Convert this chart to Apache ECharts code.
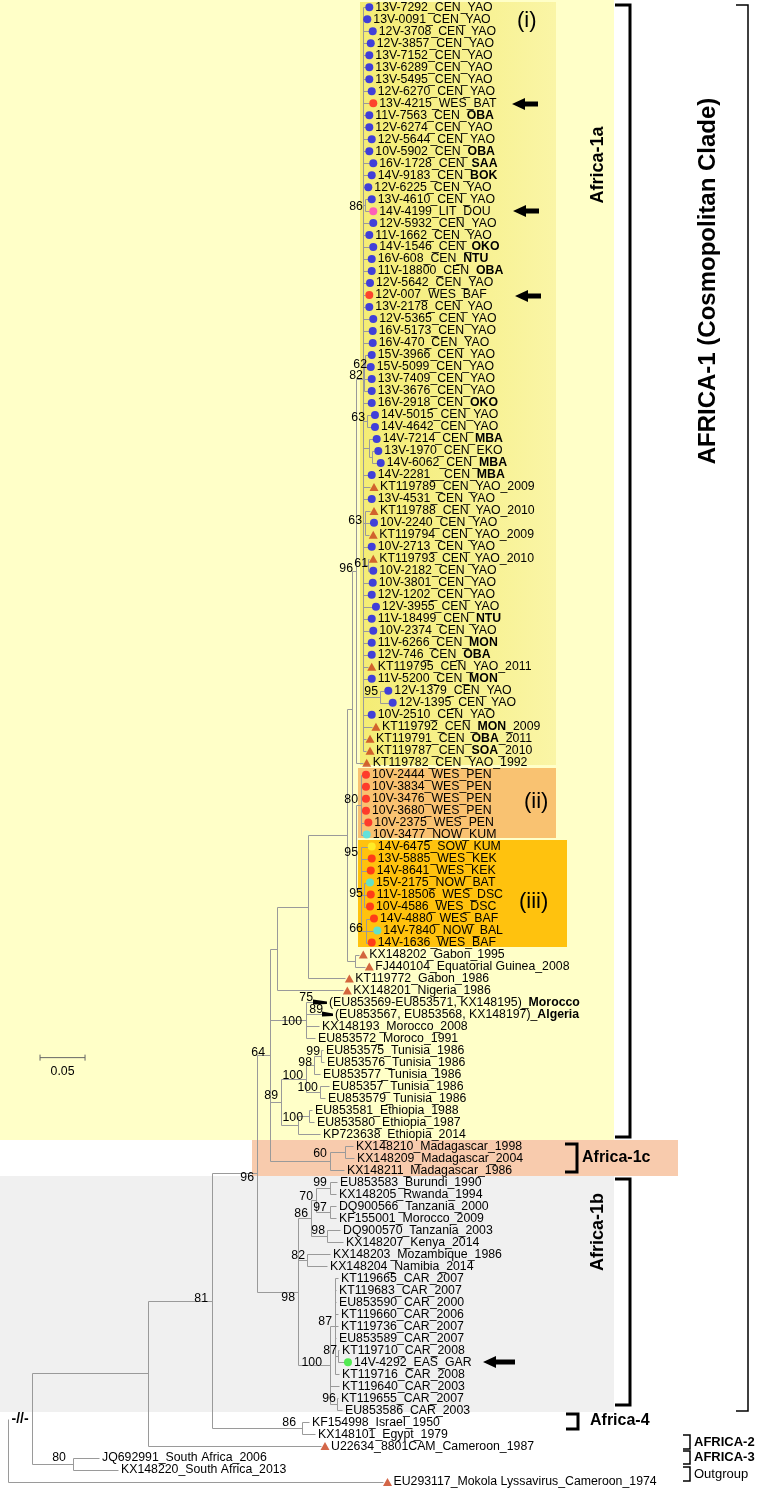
<!DOCTYPE html>
<html><head><meta charset="utf-8">
<script src="https://cdn.jsdelivr.net/npm/echarts@6/dist/echarts.min.js"></script>
<style>html,body{margin:0;padding:0;background:#fff}#c{width:757px;height:1490px}</style>
</head><body><div id="c"></div>
<script>
// ---------------- DATA ----------------
const leafNames = [
"13V-7292_CEN_YAO","13V-0091_CEN_YAO","12V-3708_CEN_YAO","12V-3857_CEN_YAO","13V-7152_CEN_YAO","13V-6289_CEN_YAO","13V-5495_CEN_YAO","12V-6270_CEN_YAO","13V-4215_WES_BAT","11V-7563_CEN_|OBA",
"12V-6274_CEN_YAO","12V-5644_CEN_YAO","10V-5902_CEN_|OBA","16V-1728_CEN_|SAA","14V-9183_CEN_|BOK","12V-6225_CEN_YAO","13V-4610_CEN_YAO","14V-4199_LIT_DOU","12V-5932_CEN_YAO","11V-1662_CEN_YAO",
"14V-1546_CEN_|OKO","16V-608_CEN_|NTU","11V-18800_CEN_|OBA","12V-5642_CEN_YAO","12V-007_WES_BAF","13V-2178_CEN_YAO","12V-5365_CEN_YAO","16V-5173_CEN_YAO","16V-470_CEN_YAO","15V-3966_CEN_YAO",
"15V-5099_CEN_YAO","13V-7409_CEN_YAO","13V-3676_CEN_YAO","16V-2918_CEN_|OKO","14V-5015_CEN_YAO","14V-4642_CEN_YAO","14V-7214_CEN_|MBA","13V-1970_CEN_EKO","14V-6062_CEN_|MBA","14V-2281__CEN_|MBA",
"KT119789_CEN_YAO_2009","13V-4531_CEN_YAO","KT119788_CEN_YAO_2010","10V-2240_CEN_YAO","KT119794_CEN_YAO_2009","10V-2713_CEN_YAO","KT119793_CEN_YAO_2010","10V-2182_CEN_YAO","10V-3801_CEN_YAO","12V-1202_CEN_YAO",
"12V-3955_CEN_YAO","11V-18499_CEN_|NTU","10V-2374_CEN_YAO","11V-6266_CEN_|MON","12V-746_CEN_|OBA","KT119795_CEN_YAO_2011","11V-5200_CEN_|MON","12V-1379_CEN_YAO","12V-1395_CEN_YAO","10V-2510_CEN_YAO",
"KT119792_CEN_|MON|_2009","KT119791_CEN_|OBA|_2011","KT119787_CEN_|SOA|_2010","KT119782_CEN_YAO_1992","10V-2444_WES_PEN","10V-3834_WES_PEN","10V-3476_WES_PEN","10V-3680_WES_PEN","10V-2375_WES_PEN","10V-3477_NOW_KUM",
"14V-6475_SOW_KUM","13V-5885_WES_KEK","14V-8641_WES_KEK","15V-2175_NOW_BAT","11V-18506_WES_DSC","10V-4586_WES_DSC","14V-4880_WES_BAF","14V-7840_NOW_BAL","14V-1636_WES_BAF","KX148202_Gabon_1995",
"FJ440104_Equatorial Guinea_2008","KT119772_Gabon_1986","KX148201_Nigeria_1986","(EU853569-EU853571, KX148195)_|Morocco","(EU853567, EU853568, KX148197)_|Algeria","KX148193_Morocco_2008","EU853572_Moroco_1991","EU853575_Tunisia_1986","EU853576_Tunisia_1986","EU853577_Tunisia_1986",
"EU85357_Tunisia_1986","EU853579_Tunisia_1986","EU853581_Ethiopia_1988","EU853580_Ethiopia_1987","KP723638_Ethiopia_2014","KX148210_Madagascar_1998","KX148209_Madagascar_2004","KX148211_Madagascar_1986","EU853583_Burundi_1990","KX148205_Rwanda_1994",
"DQ900566_Tanzania_2000","KF155001_Morocco_2009","DQ900570_Tanzania_2003","KX148207_Kenya_2014","KX148203_Mozambique_1986","KX148204_Namibia_2014","KT119665_CAR_2007","KT119683_CAR_2007","EU853590_CAR_2000","KT119660_CAR_2006",
"KT119736_CAR_2007","EU853589_CAR_2007","KT119710_CAR_2008","14V-4292_EAS_GAR","KT119716_CAR_2008","KT119640_CAR_2003","KT119655_CAR_2007","EU853586_CAR_2003","KF154998_Israel_1950","KX148101_Egypt_1979",
"U22634_8801CAM_Cameroon_1987","JQ692991_South Africa_2006","KX148220_South Africa_2013","EU293117_Mokola Lyssavirus_Cameroon_1974"
];
// marker per leaf: b blue, r red, m magenta, c cyan, y yellow, g green, t triangle, w collapsed clade, . none
const leafMarks = (
"bbbbbbbbrb"+"bbbbbbbmbb"+"bbbbrbbbbb"+"bbbbbbbbbb"+"tbtbtbtbbb"+
"bbbbbtbbbb"+"ttttrrrrrc"+"yrrcrrrcrt"+"tttww....."+".........."+
".........."+"...g......"+"t..t").split("");
// tip position (substitutions/site from root)
const leafTipX = [
0.3970,0.3948,0.4008,0.3986,0.3970,0.3970,0.3970,0.3997,0.4014,0.3970,
0.3970,0.3997,0.3970,0.4014,0.3997,0.3959,0.3997,0.4014,0.4014,0.3970,
0.4014,0.3997,0.3997,0.3978,0.3970,0.3970,0.4014,0.4008,0.4008,0.3997,
0.3986,0.3997,0.3997,0.3997,0.4033,0.4033,0.4052,0.4070,0.4097,0.3997,
0.4022,0.3997,0.4022,0.4022,0.4014,0.3997,0.4014,0.4014,0.4008,0.3997,
0.4044,0.3997,0.4014,0.3997,0.3997,0.3997,0.3997,0.4181,0.4230,0.3997,
0.4044,0.3978,0.3978,0.3941,0.3933,0.3933,0.3933,0.3933,0.3959,0.3941,
0.3997,0.3997,0.3986,0.3978,0.3986,0.3978,0.4022,0.4059,0.3997,0.3903,
0.3970,0.3748,0.3726,0.3544,0.3611,0.3456,0.3411,0.3500,0.3511,0.3467,
0.3567,0.3522,0.3378,0.3400,0.3467,0.3833,0.3844,0.3733,0.3656,0.3644,
0.3644,0.3644,0.3689,0.3722,0.3578,0.3544,0.3667,0.3644,0.3644,0.3667,
0.3667,0.3644,0.3678,0.3733,0.3678,0.3678,0.3667,0.3711,0.3344,0.3411,
0.3478,0.1011,0.1222,0.4172
];
// collapsed clades: [leaf index, clade node position]
const collapsedStart = [[83,0.3389],[84,0.3489]];
// internal nodes: [name, position, children...] (numbers = leaf index)
const treeNodes = [
["root",0,"G1",123],
["G1",0.0267,"N2","SA"],
["SA",0.0722,121,122],
["N2",0.1556,"N81",120],
["N81",0.2267,"AF1","AF4"],
["AF4",0.3267,118,119],
["AF1",0.2767,"N64","AF1b"],
["AF1b",0.3222,"EA86","EA82","CAR100"],
["EA82",0.3322,104,105],
["EA86",0.3367,"EA70","EA98"],
["EA70",0.3422,"EA99","EA97"],
["EA99",0.3578,98,99],
["EA97",0.3578,100,101],
["EA98",0.3544,102,103],
["CAR100",0.3578,"CARa",115,"CAR96"],
["CARa",0.3633,106,107,108,109,110,111,"CARb",114],
["CARb",0.3667,112,113],
["CAR96",0.3656,116,117],
["N64",0.2911,"N277","NMA","N89","Mad"],
["Mad",0.3578,"Mb",97],
["Mb",0.3744,95,96],
["N89",0.3033,"NTun","NEth"],
["NTun",0.3311,"N98","N100c"],
["N98",0.3400,"N99",89],
["N99",0.3478,87,88],
["N100c",0.3467,90,91],
["NEth",0.3222,"NEth100",94],
["NEth100",0.3344,92,93],
["NMA",0.3311,83,84,85,86],
["N277",0.2989,"N308",82],
["N308",0.3333,"N347",81],
["N347",0.3767,"Nx","GEG"],
["GEG",0.3856,79,80],
["Nx",0.3822,"N96","Nii_iii"],
["N96",0.3867,"Ci",63],
["Nii_iii",0.3867,"Nii","Niii"],
["Nii",0.3922,64,65,66,67,68,69],
["Niii",0.3922,70,71,72,"N95b","N66"],
["N95b",0.3956,73,74,75],
["N66",0.3978,76,77,78],
["Ci",0.3944,0,1,2,3,4,5,6,7,8,9,10,11,12,13,14,15,"N86",18,19,20,21,22,23,24,25,26,27,28,"N82",33,"N63a","Nb",39,40,41,"N63b",45,"N61",48,49,50,51,52,53,54,55,56,"N95a",59,60,61,62],
["N86",0.3967,16,17],
["N82",0.3956,"N62",31,32],
["N62",0.3967,29,30],
["N63a",0.3989,34,35],
["Nb",0.4011,36,"Nc"],
["Nc",0.4044,37,38],
["N63b",0.3967,42,43,44],
["N61",0.4000,46,47],
["N95a",0.4133,57,58]
];
// bootstrap values: [value, position of right edge, row]
const bootLabels = [
["86",0.3944,16.65],["62",0.3989,29.8],["82",0.3944,30.7],["63",0.3967,34.2],["63",0.3933,42.8],
["96",0.3833,46.8],["61",0.4000,46.4],["95",0.4111,57.1],["80",0.3889,66.1],["95",0.3889,70.5],
["95",0.3944,73.9],["66",0.3944,76.8],["75",0.3389,82.6],["89",0.3500,83.6],["100",0.3267,84.6],
["64",0.2856,87.2],["99",0.3467,87.1],["98",0.3378,88.0],["100",0.3278,89.1],["100",0.3444,90.1],
["89",0.3000,90.8],["100",0.3278,92.6],["60",0.3544,95.6],["96",0.2733,97.6],["99",0.3544,98.0],
["70",0.3389,99.2],["97",0.3544,100.1],["86",0.3333,100.6],["98",0.3522,102.0],["82",0.3300,104.1],
["81",0.2222,107.7],["98",0.3189,107.6],["87",0.3600,109.6],["87",0.3656,112.0],["100",0.3489,113.0],
["96",0.3644,116.0],["86",0.3200,118.0],["80",0.0644,121.0]
];
const scaleBar = {value:0.05, start:0.0356, row:87.6};

// ---------------- BUILD ----------------
const nodeMap = {};
treeNodes.forEach(n => nodeMap[n[0]] = {x:n[1], kids:n.slice(2)});
const collapsedMap = {};
collapsedStart.forEach(c => collapsedMap[c[0]] = c[1]);
function yOf(k){ if(typeof k==="number") return k; const n=nodeMap[k]; if(n.y===undefined){ n.y=(yOf(n.kids[0])+yOf(n.kids[n.kids.length-1]))/2; } return n.y; }
function xOf(k){ if(typeof k==="number") return collapsedMap[k]!==undefined?collapsedMap[k]:leafTipX[k]; return nodeMap[k].x; }
const segs = [];
treeNodes.forEach(n => {
  const name=n[0], nd=nodeMap[name], ys=nd.kids.map(yOf);
  segs.push([nd.x, Math.min(...ys), nd.x, Math.max(...ys)]);
  nd.kids.forEach(k => { if(name==="root" && k==="G1") return; segs.push([nd.x, yOf(k), xOf(k), yOf(k)]); });
});
const breakSeg = [0, yOf("G1"), nodeMap["G1"].x, yOf("G1")];
const wedges = collapsedStart.map(c => [c[1], leafTipX[c[0]], c[0]]);

const markColors = {b:"#1414F0", r:"#FF1A1A", m:"#FF3CC8", c:"#3CE8F5", y:"#FFF52E", g:"#2AE82A", t:"#C8401A"};
const FONT = "Liberation Sans, Arial, sans-serif";
const FS = 12.3;

function richName(s){
  const parts = s.split("|");
  return parts.map((p,i)=> (i%2? "{b|":"{n|") + p + "}").join("");
}

const chart = echarts.init(document.getElementById("c"), null, {renderer:"canvas"});
const W = 757, H = 1490;

// decorations (static layout)
const graphics = [];
function rect(x,y,w,h,fill,z){ graphics.push({type:"rect", shape:{x,y,width:w,height:h}, style:{fill}, z: z||0, silent:true}); }
function txt(x,y,t,opt){ graphics.push(Object.assign({type:"text", x, y, style:Object.assign({text:t, fill:"#000", font:"13px "+FONT, textAlign:"left", textVerticalAlign:"middle"}, opt.style||{}), z:5, silent:true}, opt.el||{})); }
function bracket(x,y1,y2,w,lw){ graphics.push({type:"polyline", shape:{points:[[x-w,y1],[x,y1],[x,y2],[x-w,y2]]}, style:{stroke:"#000", lineWidth:lw, fill:null}, z:5, silent:true}); }
function arrow(x,y,len){ graphics.push({type:"polygon", shape:{points:[[x,y],[x+13,y-6],[x+13,y-2.5],[x+len,y-2.5],[x+len,y+2.5],[x+13,y+2.5],[x+13,y+6]]}, style:{fill:"#000"}, z:5, silent:true}); }

// bands
rect(0,0,614,1140,"#FFFFC8",0);
rect(252,1140,426,36,"#F8CBAD",0);
rect(0,1176,614,236,"#F0F0F0",0);
graphics.push({type:"rect", shape:{x:360,y:2,width:196,height:763}, style:{fill:new echarts.graphic.LinearGradient(0,0,1,0,[{offset:0,color:"#F4EC74"},{offset:1,color:"#FAF5A6"}])}, z:1, silent:true});
rect(358,768,198,70,"#F9C271",1);
rect(358,840,209,107,"#FFC20E",1);
// clade labels
txt(517,21,"(i)",{style:{font:"22px "+FONT}});
txt(524,802,"(ii)",{style:{font:"22px "+FONT}});
txt(519,902,"(iii)",{style:{font:"22px "+FONT}});
// arrows
arrow(512,104,26); arrow(513,211,26); arrow(515,296,26); arrow(483,1362,32);
// brackets right
bracket(630,5,1137,15,3);
txt(598,165,"Africa-1a",{style:{font:"bold 18px "+FONT, textAlign:"center"}, el:{rotation:Math.PI/2}});
bracket(748,5,1411,12,1.5);
txt(708,281,"AFRICA-1 (Cosmopolitan Clade)",{style:{font:"bold 24px "+FONT, textAlign:"center"}, el:{rotation:Math.PI/2}});
bracket(577,1144,1172,12,3);
txt(582,1158,"Africa-1c",{style:{font:"bold 16px "+FONT}});
bracket(630,1179,1405,15,3);
txt(598,1232,"Africa-1b",{style:{font:"bold 18px "+FONT, textAlign:"center"}, el:{rotation:Math.PI/2}});
bracket(578,1414,1429,12,3);
txt(590,1421,"Africa-4",{style:{font:"bold 16px "+FONT}});
bracket(690,1435,1449,7,1.5);
txt(694,1442,"AFRICA-2",{style:{font:"bold 13px "+FONT}});
bracket(690,1451,1464,7,1.5);
txt(694,1457,"AFRICA-3",{style:{font:"bold 13px "+FONT}});
bracket(690,1467,1481,7,1.5);
txt(694,1474,"Outgroup",{style:{font:"13px "+FONT}});

const option = {
  animation:false,
  backgroundColor:"#fff",
  grid:{left:8, top:0, width:720, height:H},
  xAxis:{type:"value", min:0, max:0.8, show:false},
  yAxis:{type:"value", inverse:true, min:-0.6088, max:123.661, show:false},
  graphic: graphics,
  series:[
    {type:"custom", name:"branches", z:3, silent:true, data:segs,
      renderItem:(p,api)=>{ const a=api.coord([api.value(0),api.value(1)]), b=api.coord([api.value(2),api.value(3)]);
        return {type:"line", shape:{x1:Math.round(a[0])+0.5,y1:Math.round(a[1])+0.5,x2:Math.round(b[0])+0.5,y2:Math.round(b[1])+0.5}, style:{stroke:"#9a9a9a", lineWidth:1}}; }},
    {type:"custom", name:"break", z:4, silent:true, data:[breakSeg],
      renderItem:(p,api)=>{ const a=api.coord([api.value(0),api.value(1)]), b=api.coord([api.value(2),api.value(3)]);
        return {type:"text", style:{x:(a[0]+b[0])/2, y:a[1], text:"-//-", font:"bold 14px "+FONT, fill:"#000", textAlign:"center", textVerticalAlign:"middle"}}; }},
    {type:"custom", name:"collapsed", z:4, silent:true, data:wedges,
      renderItem:(p,api)=>{ const a=api.coord([api.value(0),api.value(2)]), b=api.coord([api.value(1),api.value(2)]);
        return {type:"polygon", shape:{points:[[a[0],a[1]-3],[b[0],a[1]-1],[b[0],a[1]+1.5],[a[0],a[1]+2]]}, style:{fill:"#000"}}; }},
    ...Object.keys(markColors).map(k => ({
      type:"scatter", name:"mark_"+k, z:6, silent:true,
      symbol: k==="t"?"triangle":"circle", symbolSize: k==="t"?[9,8]:8, symbolOffset:[4,0],
      itemStyle:{color:markColors[k]},
      data: leafTipX.map((x,i)=> leafMarks[i]===k ? [x,i] : null).filter(d=>d)
    })),
    {type:"custom", name:"tipLabels", z:7, silent:true,
      data: leafTipX.map((x,i)=>[x,i]),
      renderItem:(p,api)=>{ const i=api.value(1); const c=api.coord([api.value(0),i]); const m=leafMarks[i];
        const dx = (m==="."?3:(m==="w"?2:10));
        return {type:"text", style:{x:c[0]+dx, y:c[1], text:richName(leafNames[i]), textVerticalAlign:"middle", textAlign:"left",
          rich:{n:{fontSize:FS, fontFamily:FONT, fill:"#000", color:"#000"}, b:{fontSize:FS, fontFamily:FONT, fontWeight:"bold", fill:"#000", color:"#000"}}}}; }},
    {type:"custom", name:"bootstrap", z:7, silent:true,
      data: bootLabels.map(b=>[b[1],b[2],b[0]]),
      renderItem:(p,api)=>{ const c=api.coord([api.value(0),api.value(1)]);
        return {type:"text", style:{x:c[0], y:c[1], text:String(bootLabels[p.dataIndex][0]), font:FS+"px "+FONT, fill:"#000", textAlign:"right", textVerticalAlign:"middle"}}; }},
    {type:"custom", name:"scalebar", z:7, silent:true,
      data:[[scaleBar.start, scaleBar.start+scaleBar.value, scaleBar.row]],
      renderItem:(p,api)=>{ const a=api.coord([api.value(0),api.value(2)]), b=api.coord([api.value(1),api.value(2)]);
        return {type:"group", children:[
          {type:"line", shape:{x1:a[0],y1:a[1],x2:b[0],y2:b[1]}, style:{stroke:"#666", lineWidth:1}},
          {type:"line", shape:{x1:a[0],y1:a[1]-3,x2:a[0],y2:a[1]+3}, style:{stroke:"#666", lineWidth:1}},
          {type:"line", shape:{x1:b[0],y1:b[1]-3,x2:b[0],y2:b[1]+3}, style:{stroke:"#666", lineWidth:1}},
          {type:"text", style:{x:(a[0]+b[0])/2, y:a[1]+14, text:String(scaleBar.value), font:FS+"px "+FONT, fill:"#000", textAlign:"center", textVerticalAlign:"middle"}}
        ]}; }}
  ]
};
chart.setOption(option);
</script>
</body></html>
